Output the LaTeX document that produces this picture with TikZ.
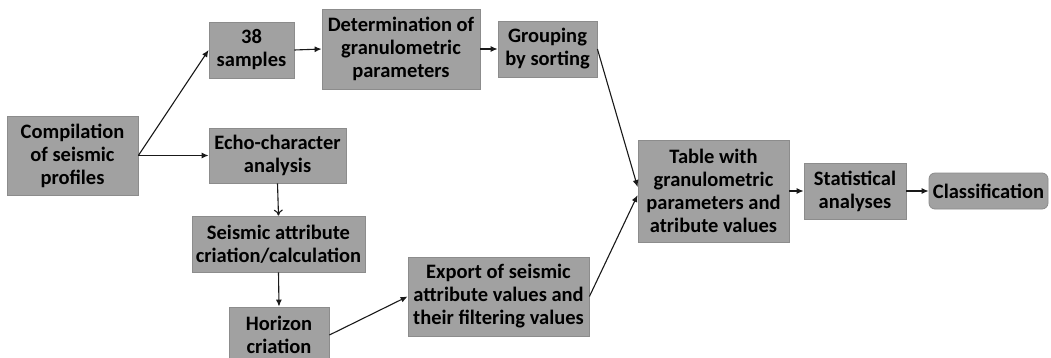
\documentclass[tikz,border=0pt]{standalone}
\usepackage{fontspec}
\setmainfont{Carlito}
\usepackage{tikz}
\usetikzlibrary{arrows.meta,positioning}

\begin{document}
\begin{tikzpicture}
[x=1pt,y=-1pt,
 box/.style={rectangle,draw=black!45,fill=black!37,line width=0.8pt,inner sep=0pt,align=center,font=\fontsize{20.5}{23}\selectfont\bfseries},
 flow/.style={-{Latex[length=7pt,width=6pt]},line width=1.1pt,draw=black!90},
 openflow/.style={-{To[length=6pt,width=9pt]},line width=1.1pt,draw=black!90}]

\useasboundingbox (0,0) rectangle (1051,357);

\node[box,minimum width=131pt,minimum height=79pt] (comp) at (72.5,155.5) {Compilation\\of seismic\\profiles};

\node[box,minimum width=85pt,minimum height=56pt] (samp) at (251.5,50) {38\\samples};
\node[box,minimum width=158pt,minimum height=80pt] (det) at (401,49) {Determination of\\granulometric\\parameters};
\node[box,minimum width=99pt,minimum height=56pt] (grp) at (547.5,49) {Grouping\\by sorting};

\node[box,minimum width=137pt,minimum height=55pt] (echo) at (277.5,155.5) {Echo-character\\analysis};
\node[box,minimum width=173pt,minimum height=56pt] (attr) at (278.5,244) {Seismic attribute\\criation/calculation};
\node[box,minimum width=100pt,minimum height=56pt] (hor) at (279,335) {Horizon\\criation};

\node[box,minimum width=181pt,minimum height=79pt] (exp) at (498.5,296.5) {Export of seismic\\attribute values and\\their filtering values};

\node[box,minimum width=151pt,minimum height=102pt] (tab) at (713.5,191) {Table with\\granulometric\\parameters and\\atribute values};
\node[box,minimum width=102pt,minimum height=56pt] (stat) at (855,191) {Statistical\\analyses};
\node[box,rounded corners=6pt,minimum width=119pt,minimum height=36pt] (cls) at (988.5,191) {Classification};

\draw [flow] (comp.east) -- (samp.west);
\draw [flow] (comp.east) -- (echo.west);
\draw [flow] (samp.east) -- (det.west);
\draw [flow] (det.east) -- (grp.west);
\draw [flow] (grp.east) -- ([yshift=4pt]tab.west);

\draw [openflow] (echo.south) -- (attr.north);
\draw [flow] (attr.south) -- (hor.north);
\draw [flow] (hor.east) -- (exp.west);
\draw [flow] (exp.east) -- ([yshift=-4pt]tab.west);

\draw [flow] (tab.east) -- (stat.west);
\draw [flow] (stat.east) -- (cls.west);
\end{tikzpicture}
\end{document}
